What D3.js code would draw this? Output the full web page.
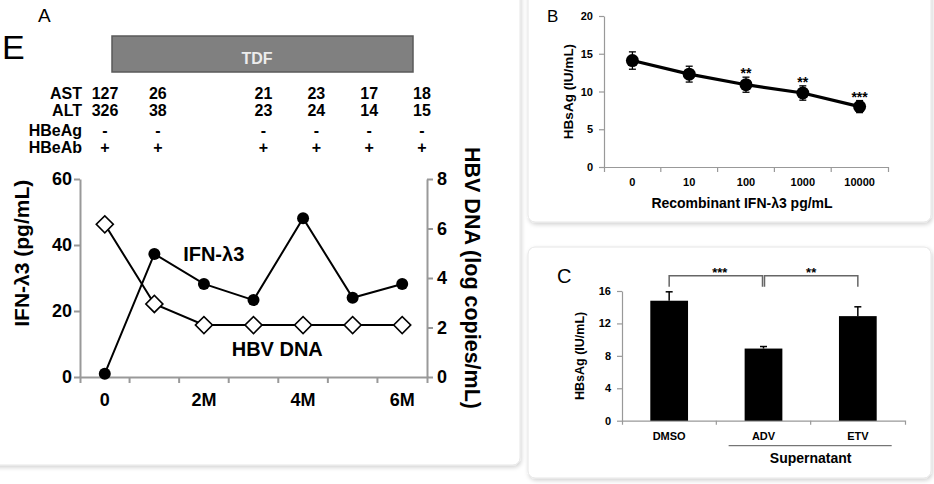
<!DOCTYPE html>
<html><head><meta charset="utf-8">
<script src="https://cdn.jsdelivr.net/npm/d3@7"></script>
<style>
body{margin:0;background:#fff}
svg{display:block}
text{font-family:"Liberation Sans",Arial,Helvetica,sans-serif;font-weight:bold;fill:#000}
</style>
</head><body>
<svg id="fig" width="934" height="484"></svg>
<script>
// ---------- Panel A data ----------
const timepoints = ["0","1M","2M","3M","4M","5M","6M"];
const xTickLabels = ["0","","2M","","4M","","6M"];
const ifnL3 = [1, 37.3, 28.2, 23.3, 48.1, 24, 28.2];       // pg/mL (left axis)
const hbvDNA = [6.17, 2.95, 2.1, 2.1, 2.1, 2.1, 2.1];      // log copies/mL (right axis)
const ifnTicks = [0, 20, 40, 60];
const dnaTicks = [0, 2, 4, 6, 8];
const tableRowNames = ["AST", "ALT", "HBeAg", "HBeAb"];
const astVals   = ["127", "26", null, "21", "23", "17", "18"];
const altVals   = ["326", "38", null, "23", "24", "14", "15"];
const hbeagVals = ["-", "-", null, "-", "-", "-", "-"];
const hbeabVals = ["+", "+", null, "+", "+", "+", "+"];

// ---------- Panel B data ----------
const concLabels = ["0", "10", "100", "1000", "10000"];
const hbsagMean = [14.1, 12.3, 10.9, 9.8, 8.0];
const hbsagErr  = [1.15, 1.05, 1.0, 0.95, 0.8];
const hbsagSig  = ["", "", "**", "**", "***"];
const bTicks = [0, 5, 10, 15, 20];

// ---------- Panel C data ----------
const treatments = ["DMSO", "ADV", "ETV"];
const treatMean = [14.8, 8.9, 12.9];
const treatErr  = [1.1, 0.25, 1.15];
const cTicks = [0, 4, 8, 12, 16];
const comparisons = [["DMSO", "ADV", "***"], ["ADV", "ETV", "**"]];

const svg = d3.select("#fig");
const defs = svg.append("defs");
const f = defs.append("filter").attr("id","shadow").attr("x","-5%").attr("y","-5%").attr("width","110%").attr("height","110%");
f.append("feDropShadow").attr("dx",1).attr("dy",2).attr("stdDeviation",2).attr("flood-color","#000").attr("flood-opacity",0.18);

// cards
const cards = [
  {x:-12, y:-12, w:532, h:477},
  {x:528, y:-12, w:403, h:234},
  {x:528, y:247, w:403, h:231}
];
svg.selectAll("rect.card").data(cards).join("rect").attr("class","card")
  .attr("x",d=>d.x).attr("y",d=>d.y).attr("width",d=>d.w).attr("height",d=>d.h)
  .attr("rx",7).attr("fill","#fff").attr("stroke","#e6e6e6").attr("filter","url(#shadow)");

function styleAxis(g, color, sw, fs){
  g.select(".domain").attr("stroke",color).attr("stroke-width",sw);
  g.selectAll(".tick line").attr("stroke",color).attr("stroke-width",sw);
  g.selectAll(".tick text").attr("fill","#000").style("font-size",fs+"px")
    .style("font-family",'"Liberation Sans",Arial,sans-serif').style("font-weight","bold");
}

// ================= Panel A =================
const A = svg.append("g");
A.append("text").attr("x",38).attr("y",22).style("font-weight","normal").style("font-size","19px").text("A");
A.append("text").attr("x",2).attr("y",59).style("font-weight","normal").style("font-size","34px").text("E");

// TDF bar
A.append("rect").attr("x",112).attr("y",36).attr("width",301).attr("height",36)
  .attr("fill","#808080").attr("stroke","#5a5a5a").attr("stroke-width",1.5);
A.append("text").attr("x",257).attr("y",58).attr("text-anchor","middle").attr("dominant-baseline","central")
  .style("font-size","16px").style("fill","#ececec").text("TDF");

// table
const tx = d3.scaleLinear().domain([0, 6]).range([105, 422]);
const rowY = d3.scalePoint().domain(tableRowNames).range([99, 151]);
const tableData = [astVals, altVals, hbeagVals, hbeabVals];
tableRowNames.forEach((r,i)=>{
  A.append("text").attr("x",82).attr("y",rowY(r)+(i>=2?2:0)).attr("text-anchor","end").style("font-size","16px").text(r);
  tableData[i].forEach((v,j)=>{
    if(v===null) return;
    A.append("text").attr("x",tx(j)).attr("y",rowY(r)+(i>=2?2:0)).attr("text-anchor","middle").style("font-size","16px").text(v);
  });
});

const xA = d3.scaleBand().domain(timepoints).range([80, 427]);
const yL = d3.scaleLinear().domain([0, 60]).range([377, 179]);
const yR = d3.scaleLinear().domain([0, 8]).range([377, 179]);

const gL = A.append("g").attr("transform","translate(80,0)")
  .call(d3.axisLeft(yL).tickValues(ifnTicks).tickSize(6).tickSizeOuter(0).tickPadding(2));
styleAxis(gL,"#999",2,18);
const gR = A.append("g").attr("transform","translate(427,0)")
  .call(d3.axisRight(yR).tickValues(dnaTicks).tickSize(6).tickSizeOuter(0).tickPadding(4));
styleAxis(gR,"#999",2,18);
const gB = A.append("g").attr("transform","translate(0,377)")
  .call(d3.axisBottom(xA).tickSize(0).tickSizeOuter(6).tickPadding(16).tickFormat((d,i)=>xTickLabels[i]));
styleAxis(gB,"#999",2,18);
gB.selectAll("line.bnd").data(timepoints.slice(1)).join("line").attr("class","bnd")
  .attr("x1",d=>xA(d)).attr("x2",d=>xA(d)).attr("y1",0).attr("y2",6).attr("stroke","#999").attr("stroke-width",2);

const cx = (d,i)=>xA(timepoints[i])+xA.bandwidth()/2;
A.append("path").datum(hbvDNA).attr("fill","none").attr("stroke","#000").attr("stroke-width",2)
  .attr("d", d3.line().x(cx).y(d=>yR(d)));
A.append("path").datum(ifnL3).attr("fill","none").attr("stroke","#000").attr("stroke-width",2)
  .attr("d", d3.line().x(cx).y(d=>yL(d)));
A.selectAll("path.dia").data(hbvDNA).join("path").attr("class","dia")
  .attr("transform",(d,i)=>`translate(${cx(d,i)},${yR(d)}) rotate(45)`)
  .attr("d", d3.symbol(d3.symbolSquare, 145)).attr("fill","#fff").attr("stroke","#000").attr("stroke-width",1.6);
A.selectAll("circle.ifn").data(ifnL3).join("circle").attr("class","ifn")
  .attr("cx",cx).attr("cy",d=>yL(d)).attr("r",6).attr("fill","#000");

A.append("text").attr("x",xA("2M")+4).attr("y",yL(35.3)).style("font-size","20px").text("IFN-λ3");
A.append("text").attr("x",xA("3M")+3).attr("y",yR(0.85)).style("font-size","20px").text("HBV DNA");

A.append("text").attr("transform",`translate(29,${yL(37.5)}) rotate(-90)`).attr("text-anchor","middle")
  .style("font-size","21px").text("IFN-λ3 (pg/mL)");
A.append("text").attr("transform",`translate(465,${yR(4)}) rotate(90)`).attr("text-anchor","middle")
  .style("font-size","21.5px").text("HBV DNA (log copies/mL)");

// ================= Panel B =================
const B = svg.append("g");
B.append("text").attr("x",547).attr("y",22).style("font-weight","normal").style("font-size","17px").text("B");
const xB = d3.scaleBand().domain(concLabels).range([604, 888]);
const yB = d3.scaleLinear().domain([0, 20]).range([167, 16]);
const gBy = B.append("g").attr("transform","translate(604,0)")
  .call(d3.axisLeft(yB).tickValues(bTicks).tickSize(5).tickSizeOuter(0).tickPadding(6));
styleAxis(gBy,"#999",1.2,11);
const gBx = B.append("g").attr("transform","translate(0,167)")
  .call(d3.axisBottom(xB).tickSize(0).tickSizeOuter(5).tickPadding(11));
styleAxis(gBx,"#999",1.2,11);
gBx.selectAll("line.bnd").data(concLabels.slice(1)).join("line").attr("class","bnd")
  .attr("x1",d=>xB(d)).attr("x2",d=>xB(d)).attr("y1",0).attr("y2",5).attr("stroke","#999").attr("stroke-width",1.2);
const bx = (d,i)=>xB(concLabels[i])+xB.bandwidth()/2;
B.append("path").datum(hbsagMean).attr("fill","none").attr("stroke","#000").attr("stroke-width",3.2)
  .attr("d", d3.line().x(bx).y(d=>yB(d)));
hbsagMean.forEach((m,i)=>{
  const x=bx(m,i), t=yB(m+hbsagErr[i]), b=yB(m-hbsagErr[i]);
  B.append("line").attr("x1",x).attr("x2",x).attr("y1",t).attr("y2",b).attr("stroke","#000").attr("stroke-width",1.3);
  [t,b].forEach(y=>B.append("line").attr("x1",x-3.5).attr("x2",x+3.5).attr("y1",y).attr("y2",y).attr("stroke","#000").attr("stroke-width",1.3));
  if(hbsagSig[i]) B.append("text").attr("x",x).attr("y",t+1).attr("text-anchor","middle").style("font-size","14px").text(hbsagSig[i]);
});
B.selectAll("circle.b").data(hbsagMean).join("circle").attr("class","b")
  .attr("cx",bx).attr("cy",d=>yB(d)).attr("r",6.5).attr("fill","#000");
B.append("text").attr("x",742).attr("y",208).attr("text-anchor","middle").style("font-size","14px").text("Recombinant IFN-λ3 pg/mL");
B.append("text").attr("transform",`translate(573,${yB(10)}) rotate(-90)`).attr("text-anchor","middle")
  .style("font-size","13.5px").text("HBsAg (IU/mL)");

// ================= Panel C =================
const C = svg.append("g");
C.append("text").attr("x",557).attr("y",283).style("font-weight","normal").style("font-size","20px").text("C");
const xC = d3.scaleBand().domain(treatments).range([622, 905]).paddingInner(0.6).paddingOuter(0.3);
const yC = d3.scaleLinear().domain([0, 16]).range([420.7, 291]);
const gCy = C.append("g").attr("transform","translate(622,0)")
  .call(d3.axisLeft(yC).tickValues(cTicks).tickSize(5).tickSizeOuter(0).tickPadding(6));
styleAxis(gCy,"#999",1.2,11);
const gCx = C.append("g").attr("transform","translate(0,420.7)")
  .call(d3.axisBottom(xC).tickSize(0).tickSizeOuter(4).tickPadding(12));
styleAxis(gCx,"#999",1.2,11);
const stepC = xC.step();
gCx.selectAll("line.bnd").data([1,2]).join("line").attr("class","bnd")
  .attr("x1",d=>622+d*stepC).attr("x2",d=>622+d*stepC).attr("y1",0).attr("y2",4).attr("stroke","#999").attr("stroke-width",1.2);
C.selectAll("rect.bar").data(treatMean).join("rect").attr("class","bar")
  .attr("x",(d,i)=>xC(treatments[i])).attr("width",xC.bandwidth())
  .attr("y",d=>yC(d)).attr("height",d=>yC(0)-yC(d)).attr("fill","#000");
treatMean.forEach((m,i)=>{
  const x=xC(treatments[i])+xC.bandwidth()/2, t=yC(m+treatErr[i]);
  C.append("line").attr("x1",x).attr("x2",x).attr("y1",yC(m)).attr("y2",t).attr("stroke","#000").attr("stroke-width",1.5);
  C.append("line").attr("x1",x-3.5).attr("x2",x+3.5).attr("y1",t).attr("y2",t).attr("stroke","#000").attr("stroke-width",1.5);
});
// brackets
const brTop = 275.7, brLeg = 286.7;
comparisons.forEach(([a,b,s],k)=>{
  const x1 = xC(a)+xC.bandwidth()/2 + (k===1?1:0), x2 = xC(b)+xC.bandwidth()/2 - (k===0?1:0);
  C.append("path").attr("d",`M${x1},${brLeg}V${brTop}H${x2}V${brLeg}`).attr("fill","none").attr("stroke","#666").attr("stroke-width",1.5);
  C.append("text").attr("x",(x1+x2)/2+(k===0?4:0)).attr("y",brTop+1).attr("text-anchor","middle").style("font-size","13px").text(s);
});
C.append("line").attr("x1",xC("ADV")-16).attr("x2",xC("ETV")+xC.bandwidth()+15).attr("y1",445.7).attr("y2",445.7)
  .attr("stroke","#555").attr("stroke-width",1);
C.append("text").attr("x",(xC("ADV")+xC("ETV")+xC.bandwidth())/2).attr("y",463).attr("text-anchor","middle")
  .style("font-size","14px").text("Supernatant");
C.append("text").attr("transform",`translate(584,${yC(8)}) rotate(-90)`).attr("text-anchor","middle")
  .style("font-size","12.5px").text("HBsAg (IU/mL)");
</script>
</body></html>
